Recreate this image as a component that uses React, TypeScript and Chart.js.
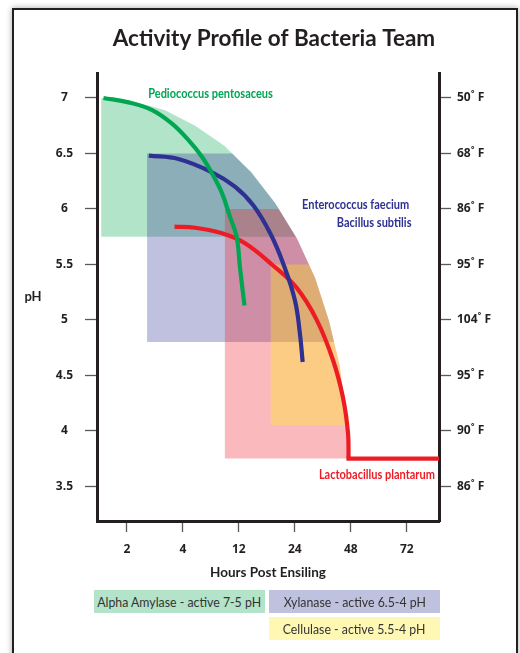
import React, { useEffect, useRef } from 'react';
import { Chart, registerables } from 'chart.js';

Chart.register(...registerables);

// ---------- data ----------
const hourLabels = ['2', '4', '12', '24', '48', '72'];
const hourPositions = [1, 2, 3, 4, 5, 6];
const phTicks = [3.5, 4, 4.5, 5, 5.5, 6, 6.5, 7];
const tempLabels = ['86˚ F', '90˚ F', '95˚ F', '104˚ F', '95˚ F', '86˚ F', '68˚ F', '50˚ F'];

// outer activity envelope (x = position on the hours axis, pH)
const arcX = [0.54, 1.11, 1.68, 2.22, 2.74, 3.22, 3.65, 4.04, 4.36, 4.61, 4.8, 4.91, 4.95];
const arcPH = [7.0, 6.97, 6.89, 6.75, 6.57, 6.33, 6.05, 5.73, 5.38, 4.99, 4.59, 4.17, 3.75];

// enzyme activity zones
const zoneNames = ['Alpha Amylase', 'Xylanase', 'Acid zone', 'Cellulase'];
const zoneStartX = [0.54, 1.36, 2.75, 3.57];
const zoneTopPH = [7.0, 6.5, 6.0, 5.5];
const zoneBottomPH = [5.75, 4.8, 3.75, 4.05];

// bacteria curves
const pedioX = [0.58, 1.03, 1.45, 1.8, 2.1, 2.34, 2.52, 2.7, 2.84, 2.96, 3.02, 3.1];
const pedioPH = [7.0, 6.96, 6.89, 6.77, 6.62, 6.47, 6.32, 6.14, 5.93, 5.75, 5.47, 5.13];
const enteroX = [1.39, 1.92, 2.52, 2.93, 3.26, 3.56, 3.79, 4.0, 4.09, 4.14];
const enteroPH = [6.48, 6.45, 6.33, 6.2, 6.03, 5.78, 5.51, 5.18, 4.88, 4.62];
const lactoX = [1.85, 2.22, 2.7, 3.11, 3.61, 4.03, 4.39, 4.68, 4.86, 4.95, 4.96];
const lactoPH = [5.84, 5.83, 5.78, 5.69, 5.49, 5.29, 5.0, 4.64, 4.3, 3.98, 3.75];
const lactoTailX = [4.96, 6.7];
const lactoTailPH = [3.75, 3.75];

const curveLabels = ['Pediococcus pentosaceus', 'Enterococcus faecium', 'Bacillus subtilis', 'Lactobacillus plantarum'];
const curveLabelX = [1.38, 4.13, 4.75, 4.43];
const curveLabelPH = [7.04, 6.04, 5.87, 3.6];

const legendTexts = ['Alpha Amylase - active 7-5 pH', 'Xylanase - active 6.5-4 pH', 'Cellulase - active 5.5-4 pH'];

// ---------- styles ----------
const GREEN = '#00a651';
const BLUE = '#2e3192';
const RED = '#ed1c24';
const INK = '#231f20';
const zoneColors = ['rgba(0,166,81,0.3)', 'rgba(46,49,146,0.3)', 'rgba(237,28,36,0.3)', 'rgba(255,242,0,0.3)'];
const curveLabelColors = [GREEN, BLUE, BLUE, RED];
const legendColors = ['rgb(179,227,200)', 'rgb(191,194,222)', 'rgb(255,248,180)'];
const FONT = 'Lato';
const TICK_FONT = '"Open Sans"';

function arcXAt(ph: number) {
  for (let i = 0; i < arcPH.length - 1; i++) {
    const a = arcPH[i];
    const b = arcPH[i + 1];
    if (ph <= a && ph >= b) {
      const t = (a - ph) / (a - b);
      return arcX[i] + t * (arcX[i + 1] - arcX[i]);
    }
  }
  return arcX[arcX.length - 1];
}

function zoneShape(i: number) {
  const x0 = zoneStartX[i];
  const top = zoneTopPH[i];
  const bottom = zoneBottomPH[i];
  const pts = [
    { x: x0, y: bottom },
    { x: x0, y: top },
    { x: arcXAt(top), y: top },
  ];
  arcPH.forEach((ph, k) => {
    if (ph < top && ph > bottom) pts.push({ x: arcX[k], y: ph });
  });
  pts.push({ x: arcXAt(bottom), y: bottom });
  return pts;
}

const zip = (xs: number[], ys: number[]) => xs.map((x, i) => ({ x, y: ys[i] }));

const annotate = {
  id: 'annotate',
  afterDatasetsDraw(chart: any) {
    const { ctx, scales, chartArea } = chart;
    const x = scales.x;
    const y = scales.y;
    ctx.save();
    ctx.textBaseline = 'middle';
    ctx.textAlign = 'left';
    ctx.font = `bold 12.5px ${FONT}`;
    curveLabels.forEach((t, i) => {
      ctx.save();
      ctx.translate(x.getPixelForValue(curveLabelX[i]), y.getPixelForValue(curveLabelPH[i]));
      ctx.scale(0.88, 1);
      ctx.fillStyle = curveLabelColors[i];
      ctx.fillText(t, 0, 0);
      ctx.restore();
    });
    ctx.font = `bold 13px ${FONT}`;
    ctx.fillStyle = INK;
    ctx.textAlign = 'center';
    ctx.fillText('pH', y.left + 5, (chartArea.top + chartArea.bottom) / 2);
    ctx.restore();
  },
};

export default function App() {
  const ref = useRef<HTMLCanvasElement>(null);

  useEffect(() => {
    const zoneSets = zoneNames.map((name, i) => ({
      type: 'line' as const,
      label: name,
      data: zoneShape(i),
      fill: 'shape',
      backgroundColor: zoneColors[i],
      borderColor: 'rgba(0,0,0,0)',
      borderWidth: 0,
      pointRadius: 0,
      tension: 0,
      order: 10 - i,
    }));
    const curve = (label: string, xs: number[], ys: number[], color: string, tension = 0.4, cap = 'butt') => ({
      type: 'line' as const,
      label,
      data: zip(xs, ys),
      borderColor: color,
      backgroundColor: color,
      borderWidth: 4.2,
      borderCapStyle: cap,
      pointRadius: 0,
      fill: false,
      tension,
      order: 1,
    });
    const tickFont = { family: TICK_FONT, weight: 'bold' as const, size: 12 };
    const chart = new Chart(ref.current!, {
      type: 'line',
      data: {
        datasets: [
          ...zoneSets,
          curve('Pediococcus pentosaceus', pedioX, pedioPH, GREEN),
          curve('Enterococcus faecium / Bacillus subtilis', enteroX, enteroPH, BLUE),
          curve('Lactobacillus plantarum', lactoX, lactoPH, RED),
          curve('Lactobacillus plantarum (plateau)', lactoTailX, lactoTailPH, RED, 0, 'square'),
        ] as any,
      },
      options: {
        responsive: false,
        animation: false,
        events: [],
        layout: { padding: { left: 28, right: 0, top: 0, bottom: 0 } },
        plugins: {
          legend: { display: false },
          tooltip: { enabled: false },
          title: {
            display: true,
            text: 'Activity Profile of Bacteria Team',
            color: INK,
            font: { family: FONT, weight: 'bold', size: 22.5 },
            padding: { top: 25, bottom: 21 },
          },
        },
        scales: {
          x: {
            type: 'linear',
            position: 'bottom',
            min: 0.465,
            max: 6.576,
            afterBuildTicks: (s: any) => {
              s.ticks = hourPositions.map((v) => ({ value: v }));
            },
            afterFit: (s: any) => {
              s.height = 132;
            },
            ticks: {
              autoSkip: false,
              maxRotation: 0,
              padding: 10,
              color: INK,
              font: tickFont,
              callback: (v: any) => hourLabels[hourPositions.indexOf(v)] ?? '',
            },
            grid: { drawOnChartArea: false, drawTicks: true, tickLength: 11, tickColor: '#58595b', tickWidth: 1.3 },
            border: { display: true, color: INK, width: 3 },
            title: {
              display: true,
              text: 'Hours Post Ensiling',
              color: INK,
              font: { family: FONT, weight: 'bold', size: 13.5 },
              padding: { top: 0, bottom: 72 },
            },
          },
          y: {
            type: 'linear',
            position: 'left',
            min: 3.187,
            max: 7.225,
            afterBuildTicks: (s: any) => {
              s.ticks = phTicks.map((v) => ({ value: v }));
            },
            afterFit: (s: any) => {
              s.width = 69;
            },
            ticks: {
              crossAlign: 'center',
              padding: 12,
              color: INK,
              font: tickFont,
              callback: (v: any) => String(v),
            },
            grid: { drawOnChartArea: false, drawTicks: true, tickLength: 12, tickColor: '#58595b', tickWidth: 1.3 },
            border: { display: true, color: INK, width: 3 },
          },
          y2: {
            type: 'linear',
            position: 'right',
            display: true,
            min: 3.187,
            max: 7.225,
            afterBuildTicks: (s: any) => {
              s.ticks = phTicks.map((v) => ({ value: v }));
            },
            afterFit: (s: any) => {
              s.width = 81;
            },
            ticks: {
              crossAlign: 'near',
              padding: 6,
              color: INK,
              font: tickFont,
              callback: (v: any) => tempLabels[phTicks.indexOf(v)] ?? '',
            },
            grid: { drawOnChartArea: false, drawTicks: true, tickLength: 12, tickColor: '#58595b', tickWidth: 1.3 },
            border: { display: true, color: INK, width: 3 },
          },
        },
      } as any,
      plugins: [annotate],
    });
    return () => chart.destroy();
  }, []);

  const legendBox = (i: number, left: number, top: number) => (
    <div
      key={i}
      style={{
        position: 'absolute',
        left,
        top,
        width: 171,
        height: 23,
        background: legendColors[i],
        display: 'flex',
        alignItems: 'center',
        justifyContent: 'center',
        overflow: 'hidden',
      }}
    >
      <span
        style={{
          display: 'inline-block',
          whiteSpace: 'nowrap',
          fontFamily: FONT,
          fontSize: 14,
          color: '#333',
          transform: 'scaleX(0.88)',
        }}
      >
        {legendTexts[i]}
      </span>
    </div>
  );

  return (
    <div style={{ position: 'fixed', left: 0, top: 0, width: 520, height: 653, overflow: 'hidden', background: '#fff' }}>
      <div
        style={{
          position: 'absolute',
          left: 12,
          top: 8,
          width: 502,
          height: 720,
          border: `2px solid ${INK}`,
          background: '#fff',
          boxShadow: '0 0 6px rgba(0,0,0,0.35)',
        }}
      />
      <canvas ref={ref} width={520} height={653} style={{ position: 'absolute', left: 0, top: 0, width: 520, height: 653 }} />
      {legendBox(0, 94, 590)}
      {legendBox(1, 269, 590)}
      {legendBox(2, 269, 617)}
    </div>
  );
}
